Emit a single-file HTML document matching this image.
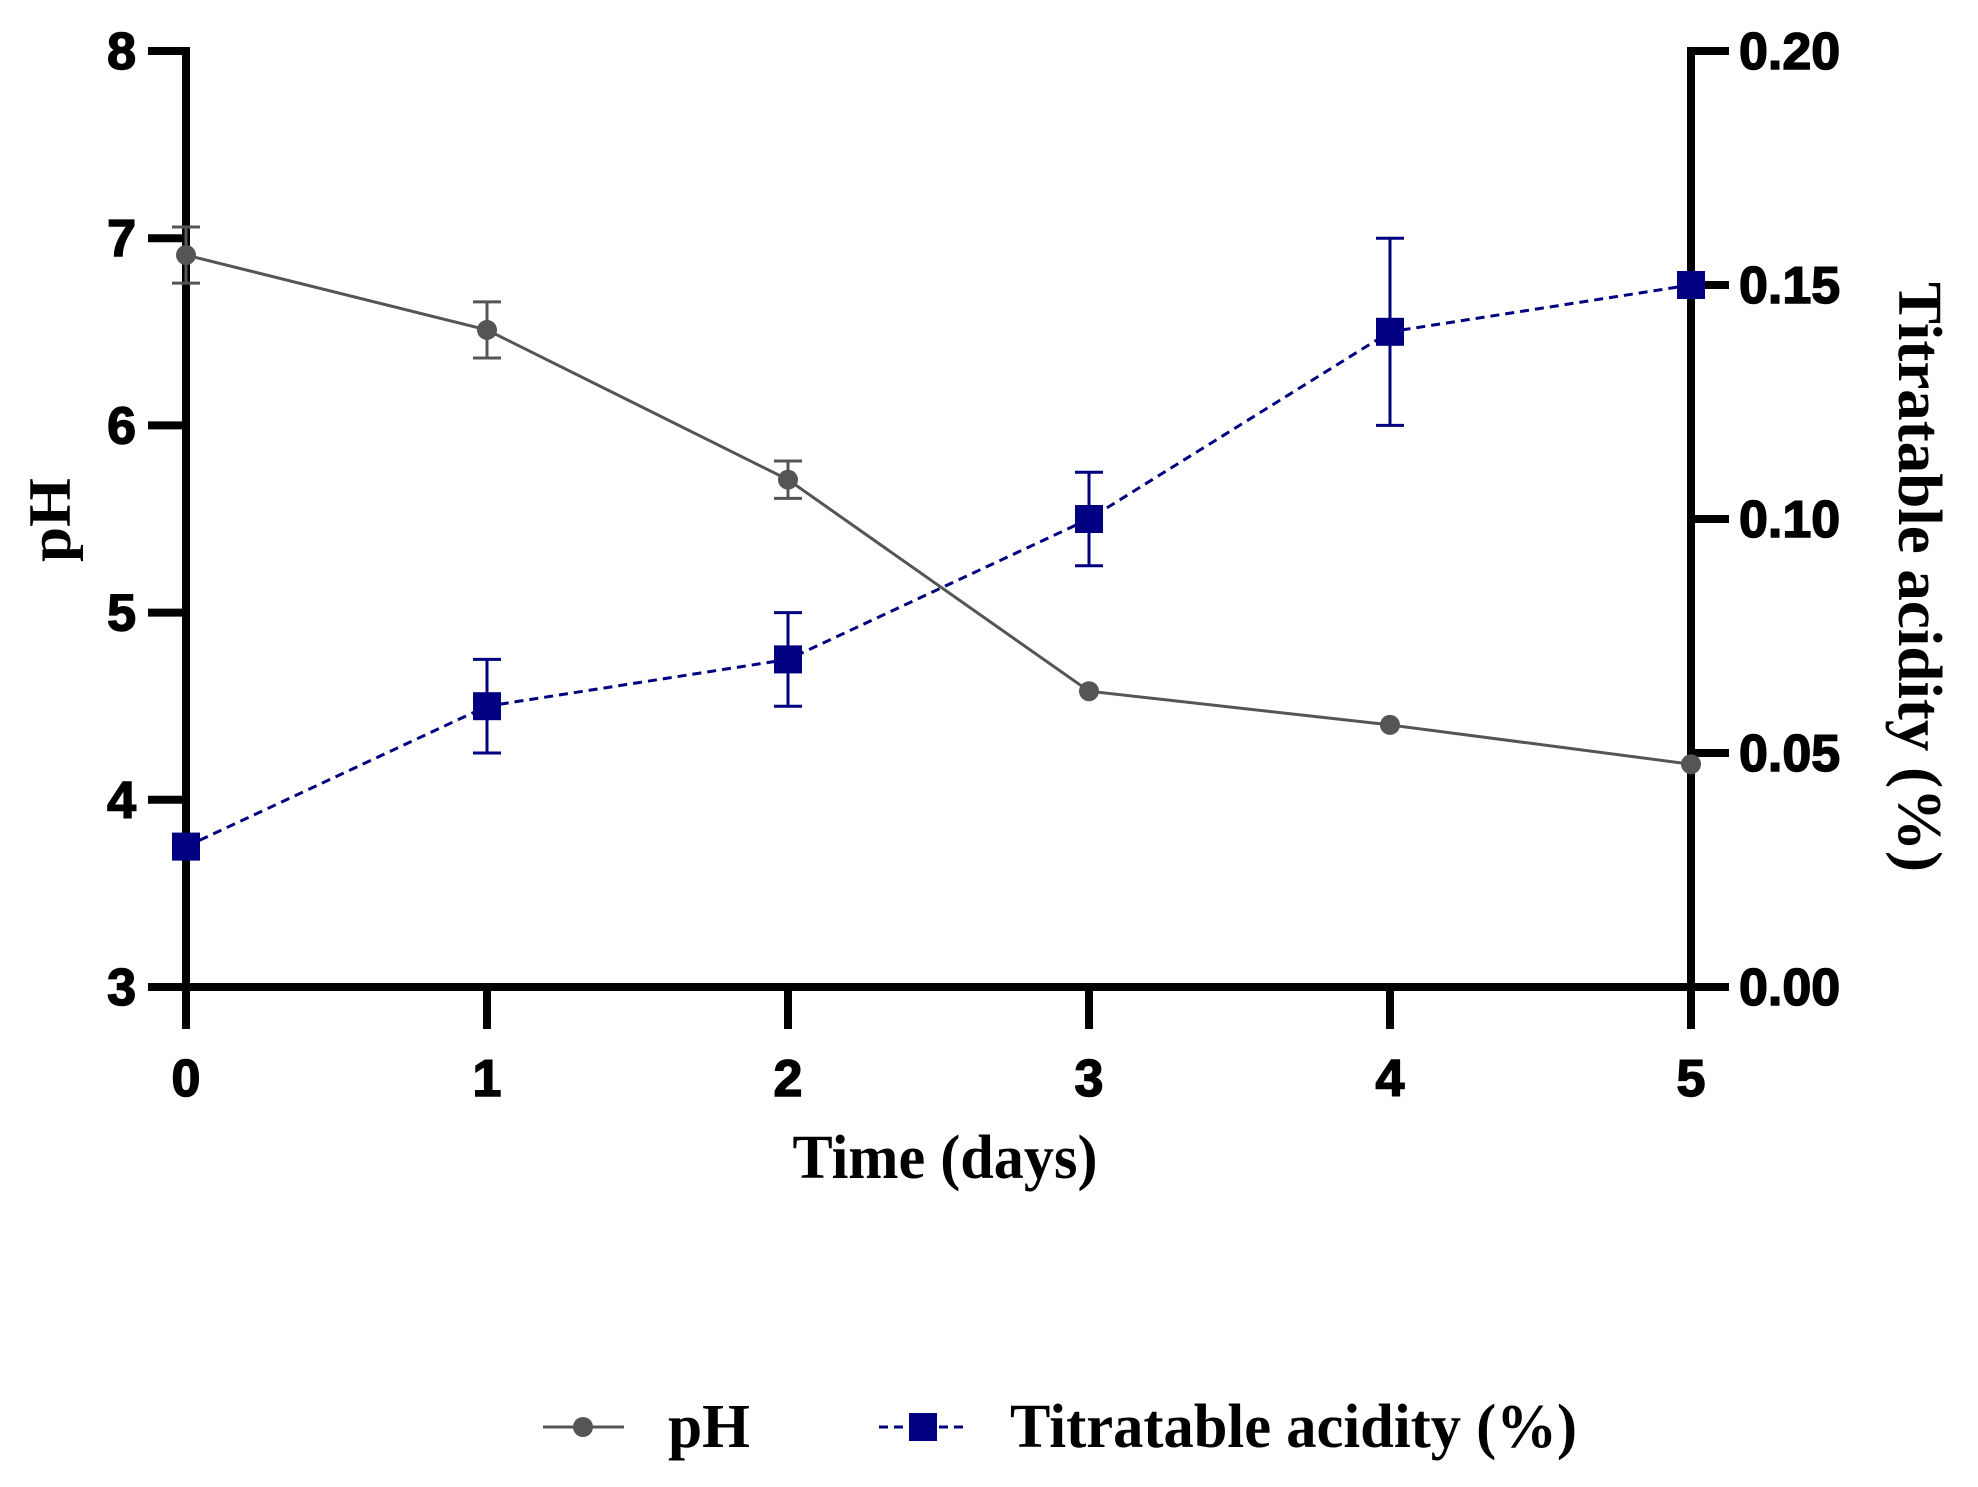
<!DOCTYPE html>
<html><head><meta charset="utf-8"><style>
html,body{margin:0;padding:0;background:#fff;}
svg{display:block;}
.tick{font-family:"Liberation Sans",Arial,sans-serif;font-weight:bold;font-size:52px;fill:#000;stroke:#000;stroke-width:1.5px;}
.ttl{font-family:"Liberation Serif","Times New Roman",serif;font-weight:bold;fill:#000;}
</style></head><body>
<svg id="chart" width="1978" height="1487" viewBox="0 0 1978 1487" xmlns="http://www.w3.org/2000/svg">
<g id="axes"></g>
<g id="series"></g>
<text class="ttl" x="0" y="0" font-size="60" text-anchor="middle" textLength="84" lengthAdjust="spacingAndGlyphs" transform="translate(70,520) rotate(-90)">pH</text>
<text class="ttl" x="945" y="1178" font-size="62" text-anchor="middle" textLength="305" lengthAdjust="spacingAndGlyphs">Time (days)</text>
<text class="ttl" x="0" y="0" font-size="62" text-anchor="middle" textLength="590" lengthAdjust="spacingAndGlyphs" transform="translate(1899,577) rotate(90)">Titratable acidity (%)</text>
<g id="legend">
 <g>
  <line x1="543" y1="1427" x2="624" y2="1427" stroke="#555" stroke-width="3"/>
  <circle cx="583" cy="1427" r="10" fill="#555"/>
  <text class="ttl" x="668" y="1447" font-size="62" textLength="82" lengthAdjust="spacingAndGlyphs">pH</text>
 </g>
 <g>
  <line x1="879" y1="1427" x2="966" y2="1427" stroke="#000080" stroke-width="3" stroke-dasharray="9,6"/>
  <rect x="909" y="1413" width="28" height="28" fill="#000080"/>
  <text class="ttl" x="1010" y="1447" font-size="62" textLength="567" lengthAdjust="spacingAndGlyphs">Titratable acidity (%)</text>
 </g>
</g>
</svg>
<script>
const days = [0, 1, 2, 3, 4, 5];
const phValues = [6.91, 6.51, 5.71, 4.58, 4.40, 4.19];
const phErrors = [0.15, 0.15, 0.10, 0, 0, 0];
const taValues = [0.030, 0.060, 0.070, 0.100, 0.140, 0.150];
const taErrors = [0, 0.010, 0.010, 0.010, 0.020, 0];
const xTicks = ["0", "1", "2", "3", "4", "5"];
const yTicks = ["3", "4", "5", "6", "7", "8"];
const y2Ticks = ["0.00", "0.05", "0.10", "0.15", "0.20"];

const NS = "http://www.w3.org/2000/svg";
const X0 = 186, X1 = 1691, Y0 = 987, Y1 = 51;
const xs = d => X0 + (d - 0) / 5 * (X1 - X0);
const yL = v => Y0 - (v - 3) / 5 * (Y0 - Y1);
const yR = v => Y0 - v / 0.2 * (Y0 - Y1);
function mk(tag, attrs, parent) {
  const e = document.createElementNS(NS, tag);
  for (const k in attrs) e.setAttribute(k, attrs[k]);
  parent.appendChild(e);
  return e;
}
const axes = document.getElementById('axes');
const series = document.getElementById('series');
const AW = 8;
let el = mk('line', {x1: X0, y1: Y1 - AW/2, x2: X0, y2: Y0 + 42, stroke: '#000', 'stroke-width': AW}, axes);


el = mk('line', {x1: X1, y1: Y1 - AW/2, x2: X1, y2: Y0 + 42, stroke: '#000', 'stroke-width': AW}, axes);


el = mk('line', {x1: X0 - 38, y1: Y0, x2: X1 + 38, y2: Y0, stroke: '#000', 'stroke-width': AW}, axes);


yTicks.forEach(t => {
  const y = yL(parseFloat(t));
  let l = mk('line', {x1: X0 - 38, y1: y, x2: X0, y2: y, stroke: '#000', 'stroke-width': AW}, axes);
  
  
  let tx = mk('text', {x: X0 - 50, y: y + 18, 'text-anchor': 'end', class: 'tick'}, axes);
  tx.textContent = t;
  
  
});
y2Ticks.forEach(t => {
  const y = yR(parseFloat(t));
  let l = mk('line', {x1: X1, y1: y, x2: X1 + 38, y2: y, stroke: '#000', 'stroke-width': AW}, axes);
  
  
  let tx = mk('text', {x: X1 + 48, y: y + 18, 'text-anchor': 'start', class: 'tick'}, axes);
  tx.textContent = t;
  
  
});
xTicks.forEach((t, i) => {
  const x = xs(days[i]);
  let l = mk('line', {x1: x, y1: Y0, x2: x, y2: Y0 + 42, stroke: '#000', 'stroke-width': AW}, axes);
  
  
  let tx = mk('text', {x: x, y: 1096, 'text-anchor': 'middle', class: 'tick'}, axes);
  tx.textContent = t;
  
  
});
let pts = days.map((d, i) => xs(d) + ',' + yL(phValues[i])).join(' ');
el = mk('polyline', {points: pts, fill: 'none', stroke: '#555', 'stroke-width': 3}, series);


days.forEach((d, i) => {
  const x = xs(d);
  if (phErrors[i] > 0) {
    const ya = yL(phValues[i] + phErrors[i]), yb = yL(phValues[i] - phErrors[i]);
    let e = mk('path', {d: `M${x},${ya}V${yb}M${x-14},${ya}H${x+14}M${x-14},${yb}H${x+14}`, stroke: '#555', 'stroke-width': 3, fill: 'none'}, series);
    
    
  }
  let c = mk('circle', {cx: x, cy: yL(phValues[i]), r: 10, fill: '#555'}, series);
  
  
});
pts = days.map((d, i) => xs(d) + ',' + yR(taValues[i])).join(' ');
el = mk('polyline', {points: pts, fill: 'none', stroke: '#000080', 'stroke-width': 3, 'stroke-dasharray': '9,6'}, series);


days.forEach((d, i) => {
  const x = xs(d);
  if (taErrors[i] > 0) {
    const ya = yR(taValues[i] + taErrors[i]), yb = yR(taValues[i] - taErrors[i]);
    let e = mk('path', {d: `M${x},${ya}V${yb}M${x-14},${ya}H${x+14}M${x-14},${yb}H${x+14}`, stroke: '#000080', 'stroke-width': 3, fill: 'none'}, series);
    
    
  }
  let r = mk('rect', {x: x - 14, y: yR(taValues[i]) - 14, width: 28, height: 28, fill: '#000080'}, series);
  
  
});
</script>
</body></html>
